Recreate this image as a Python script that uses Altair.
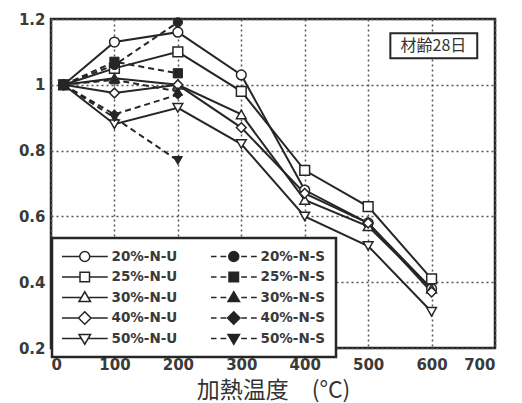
import altair as alt
import pandas as pd

# ---------------- data ----------------
temps_u = [20, 100, 200, 300, 400, 500, 600]
temps_s = [20, 100, 200]

pct_levels = ["20%", "25%", "30%", "40%", "50%"]
u_names = ["20%-N-U", "25%-N-U", "30%-N-U", "40%-N-U", "50%-N-U"]
s_names = ["20%-N-S", "25%-N-S", "30%-N-S", "40%-N-S", "50%-N-S"]

u_20 = [1.00, 1.13, 1.16, 1.03, 0.68, 0.58, 0.38]
u_25 = [1.00, 1.05, 1.10, 0.98, 0.74, 0.63, 0.41]
u_30 = [1.00, 1.02, 1.00, 0.91, 0.65, 0.57, 0.38]
u_40 = [1.00, 0.975, 1.00, 0.87, 0.67, 0.58, 0.37]
u_50 = [1.00, 0.88, 0.93, 0.82, 0.60, 0.51, 0.31]

s_20 = [1.00, 1.06, 1.19]
s_25 = [1.00, 1.07, 1.035]
s_30 = [1.00, 1.015, 0.98]
s_40 = [1.00, 0.91, 0.97]
s_50 = [1.00, 0.90, 0.77]

y_ticks = [0.2, 0.4, 0.6, 0.8, 1.0, 1.2]
x_ticks = [0, 100, 200, 300, 400, 500, 600, 700]
x_title = "加熱温度\u3000(°C)"
tag_text = "材齢28日"

# ---------------- table ----------------
rows = []
for name, pct, vals in zip(u_names, pct_levels, [u_20, u_25, u_30, u_40, u_50]):
    for t, v in zip(temps_u, vals):
        rows.append({"series": name, "pct": pct, "kind": "U", "temp": t, "value": v})
for name, pct, vals in zip(s_names, pct_levels, [s_20, s_25, s_30, s_40, s_50]):
    for t, v in zip(temps_s, vals):
        rows.append({"series": name, "pct": pct, "kind": "S", "temp": t, "value": v})
df = pd.DataFrame(rows)

# legend order (vertical legend: first column U, second column S)
legend_order = u_names + s_names

# custom legend symbols: marker with line stubs (unit = marker radius)
STUB = 4.6
marker_paths = {
    "20%": ("M1,0A1,1,0,1,1,-1,0A1,1,0,1,1,1,0Z", 1.0),
    "25%": ("M-0.95,-0.95L0.95,-0.95L0.95,0.95L-0.95,0.95Z", 0.95),
    "30%": ("M0,-1.15L1.15,0.8L-1.15,0.8Z", 0.65),
    "40%": ("M0,-1.25L1.25,0L0,1.25L-1.25,0Z", 1.25),
    "50%": ("M0,1.15L1.15,-0.8L-1.15,-0.8Z", 0.65),
}


def solid_stub(r):
    return f"M{-STUB},0L{-r},0M{r},0L{STUB},0"


def dashed_stub(r):
    segs = []
    for a, b in [(1.5, 2.65), (3.45, 4.6)]:
        segs.append(f"M{-b},0L{-a},0M{a},0L{b},0")
    return "".join(segs)


legend_paths, legend_fills = [], []
for pct in pct_levels:
    mp, r = marker_paths[pct]
    legend_paths.append(solid_stub(r) + mp)
    legend_fills.append("white")
for pct in pct_levels:
    mp, r = marker_paths[pct]
    legend_paths.append(dashed_stub(r) + mp)
    legend_fills.append("#222")

shape_names = ["circle", "square", "triangle-up", "diamond", "triangle-down"]

INK = "#262626"
TXT = "#3a3a3a"
LABEL_FONT = "DejaVu Sans"
CJK_FONT = "Noto Sans CJK JP"

x_enc = alt.X(
    "temp:Q",
    scale=alt.Scale(domain=[0, 700], nice=False),
    axis=alt.Axis(values=x_ticks, title=x_title, format="d", labelPadding=9, titlePadding=7),
)
y_enc = alt.Y(
    "value:Q",
    scale=alt.Scale(domain=[0.2, 1.2], nice=False, zero=False),
    axis=alt.Axis(values=y_ticks, format="~g", title=None, labelPadding=6),
)

base = alt.Chart(df).encode(x=x_enc, y=y_enc, detail="series:N")

lines_u = base.transform_filter(alt.datum.kind == "U").mark_line(
    color=INK, strokeWidth=2
)
lines_s = base.transform_filter(alt.datum.kind == "S").mark_line(
    color=INK, strokeWidth=2, strokeDash=[6, 4]
)

shape_scale = alt.Scale(domain=pct_levels, range=shape_names)
pts_u = base.transform_filter(alt.datum.kind == "U").mark_point(
    filled=True, fill="white", stroke=INK, strokeWidth=1.5, size=95, opacity=1
).encode(shape=alt.Shape("pct:N", scale=shape_scale, legend=None))
pts_s = base.transform_filter(alt.datum.kind == "S").mark_point(
    filled=True, fill=INK, stroke=INK, strokeWidth=1, size=85, opacity=1
).encode(shape=alt.Shape("pct:N", scale=shape_scale, legend=None))

leg = alt.Legend(
    orient="none",
    legendX=1,
    legendY=219,
    columns=2,
    title=None,
    symbolSize=100,
    symbolStrokeWidth=1.5,
    symbolStrokeColor=INK,
    symbolOpacity=1,
    symbolOffset=16,
    labelOffset=20,
    labelFont=LABEL_FONT,
    labelFontSize=13.5,
    labelFontWeight="bold",
    labelColor=TXT,
    columnPadding=33,
    rowPadding=3.5,
    clipHeight=17,
    padding=10,
    strokeColor=INK,
    fillColor="white",
)

# legend-only layer: no rows pass the filter, the explicit domains drive the legend
legend_layer = (
    alt.Chart(df)
    .transform_filter("false")
    .mark_point(filled=True, strokeWidth=1.5, size=100, opacity=1)
    .encode(
        x=x_enc,
        y=y_enc,
        shape=alt.Shape("series:N", scale=alt.Scale(domain=legend_order, range=legend_paths), legend=leg),
        fill=alt.Fill("series:N", scale=alt.Scale(domain=legend_order, range=legend_fills), legend=leg),
        stroke=alt.Stroke("series:N", scale=alt.Scale(domain=legend_order, range=[INK] * len(legend_order)), legend=leg),
    )
)

tag_df = pd.DataFrame({"x": [535], "x2": [672], "y": [1.157], "y2": [1.081], "tx": [603], "ty": [1.119], "label": [tag_text]})
tag_box = alt.Chart(tag_df).mark_rect(fill="white", stroke=INK, strokeWidth=2).encode(
    x="x:Q", x2="x2:Q", y="y:Q", y2="y2:Q"
)
tag_txt = alt.Chart(tag_df).mark_text(
    font=CJK_FONT, fontSize=16, color="#333"
).encode(x="tx:Q", y="ty:Q", text="label:N")

chart = (
    alt.layer(lines_u, lines_s, pts_u, pts_s, legend_layer, tag_box, tag_txt)
    .resolve_scale(shape="independent", fill="independent", stroke="independent")
    .properties(
        width=444,
        height=329,
        autosize=alt.AutoSizeParams(type="none"),
        padding={"left": 43, "top": 11, "right": 19, "bottom": 55},
        background="white",
    )
    .configure_view(stroke=INK, strokeWidth=2.5)
    .configure_axis(
        grid=True,
        gridDash=[2, 3],
        gridColor="#555",
        gridWidth=1.5,
        domain=False,
        ticks=False,
        labelFont=LABEL_FONT,
        labelFontSize=15,
        labelFontWeight="bold",
        labelColor=TXT,
        titleFont=CJK_FONT,
        titleFontSize=23,
        titleFontWeight="normal",
        titleColor="#333",
    )
    .configure_legend(strokeWidth=2.5)
)

chart.save("out.html", embed_options={"renderer": "svg", "actions": False})
